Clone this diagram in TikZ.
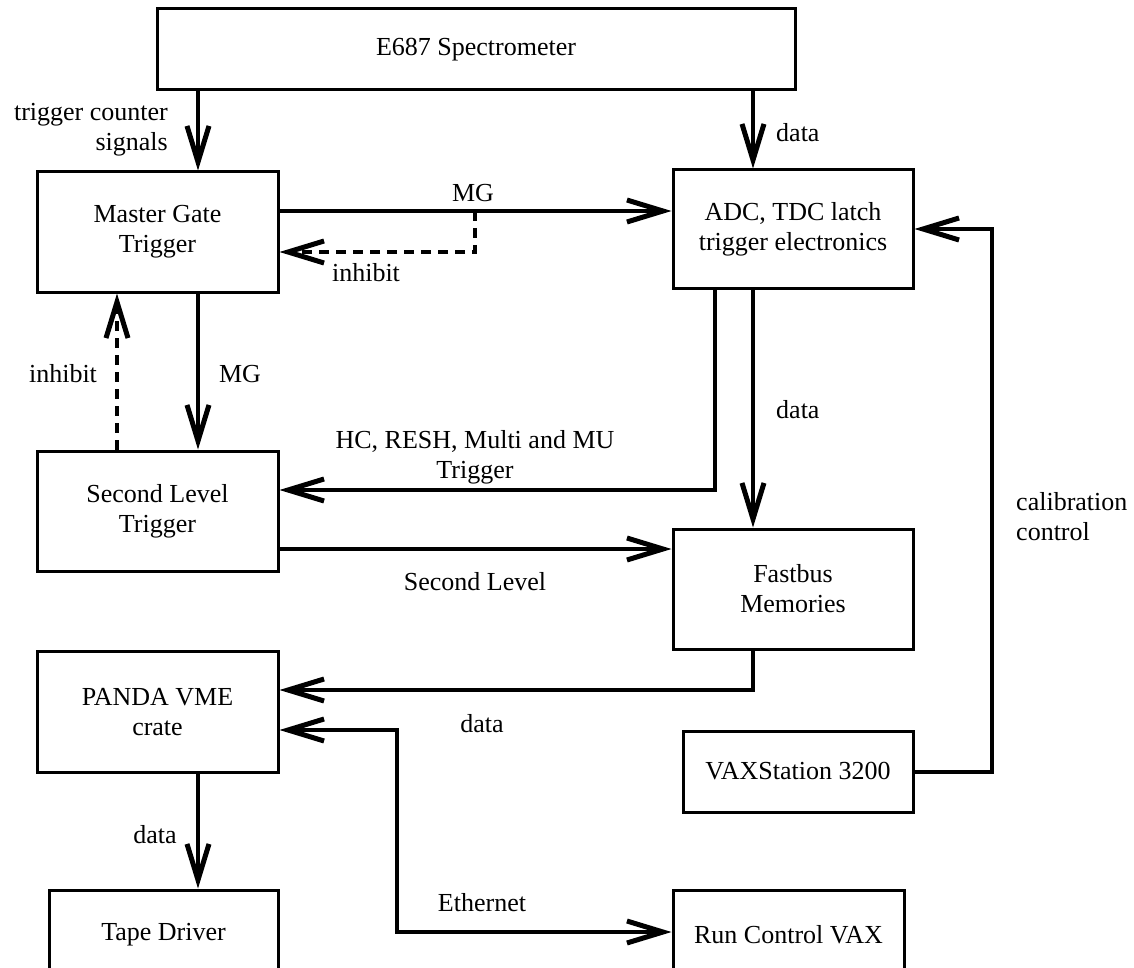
\documentclass[tikz,border=0pt]{standalone}
\usepackage{fontspec}
\setmainfont{Liberation Serif}
\usetikzlibrary{arrows.meta}
\tikzset{
  box/.style={draw, line width=3pt, align=center, inner sep=0pt},
  lbl/.style={inner sep=0pt, align=center},
  tipV/.tip={Straight Barb[length=36pt,width=22pt,line width=5pt]},
  arr/.style={line width=4pt, -tipV},
  biarr/.style={line width=4pt, tipV-tipV},
  darr/.style={line width=4.5pt, dash pattern=on 10pt off 7pt, -tipV},
}
\begin{document}
\begin{tikzpicture}[x=1pt,y=-1pt,font=\fontsize{26}{30}\selectfont]
\useasboundingbox (0,0) rectangle (1134,968);
\fill[white] (0,0) rectangle (1134,968);
\clip (0,0) rectangle (1134,968);

% boxes
\node[box, minimum width=638pt, minimum height=81pt] (spec) at (476,49.5) {E687 Spectrometer};
\node[box, minimum width=241pt, minimum height=120pt] (mg) at (157.5,232) {Master Gate\\Trigger};
\node[box, minimum width=240pt, minimum height=118pt] (adc) at (793,229) {ADC, TDC latch\\trigger electronics};
\node[box, minimum width=241pt, minimum height=120pt] (slt) at (157.5,511) {Second Level\\Trigger};
\node[box, minimum width=240pt, minimum height=120pt] (fb) at (793,589) {Fastbus\\Memories};
\node[box, minimum width=241pt, minimum height=121pt] (panda) at (157.5,712) {PANDA VME\\crate};
\node[box, minimum width=230pt, minimum height=81pt] (vaxs) at (798,771.5) {VAXStation 3200};
\node[box, minimum width=229pt, minimum height=90pt] (tape) at (163.5,935) {Tape Driver};
\node[box, minimum width=231pt, minimum height=90pt] (rcv) at (788.5,935) {Run Control VAX};

% routing coordinates
\coordinate (xL) at (198,0);
\coordinate (xD) at (117,0);
\coordinate (xR) at (753,0);
\coordinate (xH) at (715,0);
\coordinate (xI) at (475,0);
\coordinate (xE) at (397,0);
\coordinate (xC) at (992,0);
\coordinate (yMG) at (0,211);
\coordinate (yInh) at (0,252);
\coordinate (yHC) at (0,490);
\coordinate (ySL) at (0,549);
\coordinate (yFB) at (0,690);
\coordinate (yEth) at (0,730);
\coordinate (yEth2) at (0,932);
\coordinate (yCal) at (0,229);

% connectors
\draw[arr] (spec.south -| xL) -- (mg.north -| xL);
\draw[arr] (spec.south -| xR) -- (adc.north -| xR);
\draw[arr] (mg.east |- yMG) -- (adc.west |- yMG);
\draw[darr] (xI |- yMG) -- (xI |- yInh) -- (mg.east |- yInh);
\draw[arr] (mg.south -| xL) -- (slt.north -| xL);
\draw[darr] (slt.north -| xD) -- (mg.south -| xD);
\draw[arr] (adc.south -| xH) |- (slt.east |- yHC);
\draw[arr] (adc.south -| xR) -- (fb.north -| xR);
\draw[arr] (slt.east |- ySL) -- (fb.west |- ySL);
\draw[arr] (fb.south -| xR) |- (panda.east |- yFB);
\draw[arr] (panda.south -| xL) -- (tape.north -| xL);
\draw[biarr] (panda.east |- yEth) -- (xE |- yEth) -- (xE |- yEth2) -- (rcv.west |- yEth2);
\draw[arr] (vaxs.east) -| (xC |- yCal) -- (adc.east |- yCal);

% labels
\node[lbl, anchor=east, align=right] (lTrig) at (168,130) {trigger counter\\signals};
\node[lbl, anchor=west] (lData1) at (776,133) {data};
\node[lbl] (lMG1) at (473,193) {MG};
\node[lbl] (lInh1) at (366,273) {inhibit};
\node[lbl] (lInh2) at (63,374) {inhibit};
\node[lbl] (lMG2) at (240,374) {MG};
\node[lbl, anchor=west] (lData2) at (776,410) {data};
\node[lbl] (lHC) at (475,457) {HC, RESH, Multi and MU\\Trigger};
\node[lbl] (lSL) at (475,582) {Second Level};
\node[lbl, anchor=west, align=left] (lCal) at (1016,517) {calibration\\control};
\node[lbl] (lData3) at (482,724) {data};
\node[lbl] (lData4) at (155,835) {data};
\node[lbl] (lEth) at (482,903) {Ethernet};
\end{tikzpicture}
\end{document}
